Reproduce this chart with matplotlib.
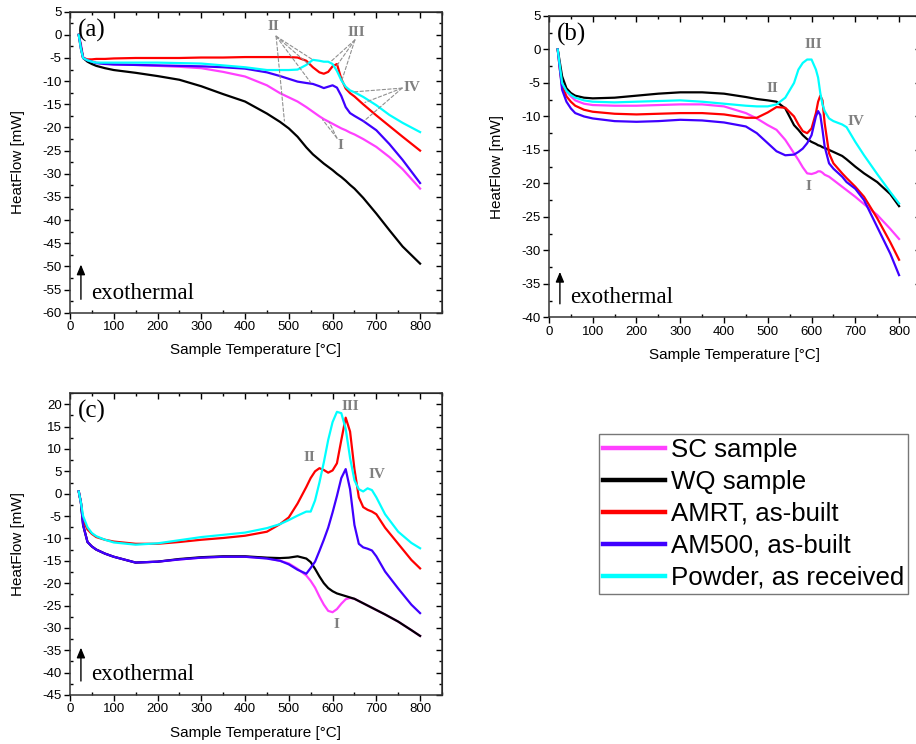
import matplotlib
matplotlib.use("Agg")
import matplotlib.pyplot as plt
from matplotlib.ticker import MultipleLocator, NullFormatter
from matplotlib.lines import Line2D

plt.rcParams["font.family"] = ["Liberation Sans", "DejaVu Sans"]
plt.rcParams["axes.unicode_minus"] = False

SERIES = ["SC sample", "WQ sample", "AMRT, as-built", "AM500, as-built", "Powder, as received"]
COLORS = ["#ff40ff", "#000000", "#ff0000", "#3f00ff", "#00ffff"]

# panel (a)
T_A = [20, 25, 30, 40, 50, 60, 80, 100, 150, 200, 250, 300, 350, 400, 450, 480, 500, 520, 540,
       555, 570, 580, 590, 600, 610, 620, 630, 640, 650, 670, 700, 730, 760, 800]
SC_A = [0, -2, -4.8, -5.5, -5.8, -6.0, -6.2, -6.4, -6.5, -6.7, -6.9, -7.2, -8.0, -9.0, -10.9, -12.6,
        -13.5, -14.4, -15.6, -16.6, -17.6, -18.2, -18.7, -19.2, -19.7, -20.2, -20.6, -21.1, -21.5,
        -22.5, -24.2, -26.4, -29.0, -33.2]
WQ_A = [0, -2.5, -5.0, -5.8, -6.3, -6.7, -7.2, -7.6, -8.2, -8.9, -9.7, -11.1, -12.8, -14.4, -17.0,
        -18.8, -20.2, -22.0, -24.3, -25.8, -27.0, -27.8, -28.5, -29.2, -30.0, -30.7, -31.5, -32.4,
        -33.2, -35.2, -38.6, -42.2, -45.7, -49.4]
AMRT_A = [0, -3, -5.0, -5.3, -5.3, -5.2, -5.2, -5.1, -5.0, -5.0, -5.0, -4.9, -4.9, -4.8, -4.8, -4.8,
          -4.8, -4.9, -5.6, -7.0, -8.1, -8.4, -8.0, -6.8, -6.3, -9.5, -11.6, -12.6, -13.3, -15.0,
          -17.4, -19.7, -22.0, -25.0]
AM500_A = [0, -3, -5.0, -5.5, -5.8, -6.1, -6.3, -6.4, -6.5, -6.6, -6.7, -6.8, -7.0, -7.3, -8.1, -8.9,
           -9.5, -10.1, -10.4, -10.6, -11.1, -11.5, -11.2, -10.9, -11.4, -13.2, -15.6, -16.9, -17.5,
           -18.6, -20.6, -23.6, -27.0, -32.0]
POWDER_A = [0, -3, -5.0, -5.5, -5.8, -6.0, -6.0, -6.0, -6.0, -6.0, -6.1, -6.2, -6.6, -7.0, -7.6, -7.6,
            -7.6, -7.5, -6.5, -5.4, -5.6, -5.8, -5.8, -6.3, -7.8, -9.8, -11.2, -12.0, -12.4, -13.4,
            -15.2, -17.3, -19.0, -21.0]

# panel (b)
T_B = [20, 25, 30, 40, 50, 60, 80, 100, 150, 200, 250, 300, 350, 400, 450, 475, 500, 520, 540, 560,
       570, 580, 590, 600, 610, 615, 620, 625, 630, 640, 650, 670, 680, 700, 720, 750, 780, 800]
SC_B = [0, -2.5, -5.0, -6.3, -7.0, -7.6, -8.1, -8.3, -8.4, -8.4, -8.3, -8.2, -8.2, -8.5, -9.5, -10.3,
        -11.3, -12.0, -13.5, -15.5, -16.5, -17.6, -18.5, -18.6, -18.4, -18.2, -18.2, -18.4, -18.7,
        -19.0, -19.5, -20.5, -21.0, -22.0, -23.1, -24.7, -26.8, -28.3]
WQ_B = [0, -2, -4.0, -5.8, -6.5, -6.9, -7.2, -7.3, -7.2, -6.9, -6.6, -6.4, -6.4, -6.6, -7.1, -7.4,
        -7.6, -7.8, -8.8, -11.3, -12.0, -12.8, -13.4, -13.8, -14.1, -14.3, -14.4, -14.6, -14.7,
        -15.0, -15.3, -15.9, -16.4, -17.5, -18.5, -19.8, -21.6, -23.4]
AMRT_B = [0, -3, -5.5, -7.0, -7.8, -8.4, -9.0, -9.3, -9.6, -9.7, -9.6, -9.5, -9.5, -9.7, -10.2, -10.2,
          -9.4, -8.6, -8.7, -10.0, -11.2, -12.2, -12.5, -11.8, -9.5, -7.8, -6.9, -7.6, -11.0, -15.5,
          -17.0, -18.5, -19.2, -20.5, -22.0, -25.2, -28.8, -31.4]
AM500_B = [0, -3, -6.0, -7.8, -8.8, -9.5, -10.0, -10.3, -10.7, -10.8, -10.7, -10.5, -10.6, -10.9,
           -11.5, -12.5, -14.0, -15.2, -15.8, -15.7, -15.3, -14.8, -14.0, -12.8, -10.0, -9.2, -9.8,
           -12.0, -14.5, -17.0, -17.8, -19.0, -19.8, -20.8, -22.5, -26.5, -30.5, -33.7]
POWDER_B = [0, -2.5, -5.0, -6.2, -6.8, -7.2, -7.6, -7.8, -7.9, -7.8, -7.7, -7.6, -7.8, -8.1, -8.4,
            -8.5, -8.5, -8.2, -7.2, -5.0, -3.0, -2.0, -1.5, -1.5, -3.0, -4.2, -6.5, -8.2, -9.2,
            -10.3, -10.7, -11.2, -11.6, -13.8, -15.8, -18.6, -21.3, -23.0]

# panel (c)
T_C = [20, 25, 30, 40, 50, 60, 80, 100, 150, 200, 250, 300, 350, 400, 450, 480, 500, 520, 540, 550,
       560, 570, 580, 590, 600, 610, 620, 630, 640, 650, 660, 670, 680, 690, 700, 720, 750, 780, 800]
SC_C = [0.5, -2, -7.0, -10.8, -11.8, -12.5, -13.4, -14.1, -15.4, -15.2, -14.7, -14.3, -14.1, -14.1,
        -14.4, -15.0, -15.6, -16.8, -18.3, -19.5, -21.0, -23.0, -24.8, -26.2, -26.5, -25.8, -24.6,
        -23.6, -23.3, -23.5, -24.0, -24.5, -25.0, -25.5, -26.0, -27.0, -28.6, -30.5, -31.8]
WQ_C = [0.5, -2, -7.0, -10.8, -11.8, -12.5, -13.4, -14.1, -15.4, -15.2, -14.6, -14.2, -14.0, -14.0,
        -14.3, -14.4, -14.3, -14.0, -14.5, -15.3, -16.8, -18.5, -20.0, -21.1, -21.8, -22.3, -22.6,
        -22.9, -23.2, -23.5, -24.0, -24.5, -25.0, -25.5, -26.0, -27.0, -28.6, -30.5, -31.8]
AMRT_C = [0.5, -2, -6.0, -8.0, -9.0, -9.7, -10.3, -10.7, -11.2, -11.2, -10.8, -10.3, -9.9, -9.4, -8.5,
          -6.8, -5.3, -2.2, 1.5, 3.5, 5.0, 5.7, 5.3, 4.7, 5.2, 6.8, 12.0, 17.0, 13.9, 5.5, -0.8,
          -3.0, -3.6, -4.0, -4.6, -7.6, -11.2, -14.8, -16.7]
AM500_C = [0.5, -2, -7.0, -10.8, -11.8, -12.5, -13.4, -14.1, -15.4, -15.2, -14.7, -14.3, -14.1,
           -14.1, -14.5, -15.0, -15.8, -17.0, -17.9, -16.6, -15.2, -12.8, -10.3, -7.6, -4.2, -0.5,
           3.5, 5.5, 1.0, -7.0, -11.2, -12.0, -12.3, -12.7, -14.0, -17.4, -21.2, -24.8, -26.7]
POWDER_C = [0.5, -2, -5.0, -7.5, -8.8, -9.5, -10.3, -10.9, -11.4, -11.1, -10.4, -9.7, -9.2, -8.7,
            -7.7, -6.8, -5.9, -4.9, -4.0, -4.0, -1.5, 2.5, 7.0, 12.0, 16.0, 18.3, 18.0, 14.5, 8.0,
            3.0, 1.0, 0.5, 1.2, 0.8, -0.8, -4.6, -8.5, -11.0, -12.2]

PANELS = [
    ("(a)", T_A, [SC_A, WQ_A, AMRT_A, AM500_A, POWDER_A], (-60, 5),
     [0.0764, 0.5797, 0.4061, 0.4046]),
    ("(b)", T_B, [SC_B, WQ_B, AMRT_B, AM500_B, POWDER_B], (-40, 5),
     [0.5993, 0.5735, 0.4061, 0.4050]),
    ("(c)", T_C, [SC_C, WQ_C, AMRT_C, AM500_C, POWDER_C], (-45, 22.5),
     [0.0764, 0.0659, 0.4061, 0.4058]),
]

# peak labels: (text, x, y) in data units
PEAKS = {
    "(a)": [("II", 464, 1.9), ("III", 654, 0.6), ("IV", 782, -11.3), ("I", 617, -23.8)],
    "(b)": [("III", 603, 0.7), ("II", 510, -5.9), ("IV", 702, -10.7), ("I", 592, -20.5)],
    "(c)": [("III", 640, 19.6), ("II", 546, 8.0), ("IV", 702, 4.2), ("I", 608, -29.3)],
}
# dashed leader lines in panel (a): start point, then the points they point at
LEADERS_A = [
    ((471, -0.3), [(555, -5.4), (548, -6.6), (550, -10.3), (490, -18.6)]),
    ((651, -1.1), [(598, -5.6), (610, -6.6), (622, -9.6)]),
    ((759, -11.5), [(651, -12.3), (674, -14.6), (672, -18.6)]),
    ((610, -22.3), [(577, -18.3), (592, -18.8)]),
]
ARROW_Y = {"(a)": (-57.7, -49.0, -55.8), "(b)": (-38.4, -32.8, -37.1), "(c)": (-42.5, -33.8, -40.5)}

fig = plt.figure(figsize=(9.16, 7.44), dpi=100)

for tag, temps, curves, ylim, pos in PANELS:
    ax = fig.add_axes(pos)
    for vals, color in zip(curves, COLORS):
        ax.plot(temps, vals, color=color, lw=1.6)

    ax.set_xlim(0, 850)
    ax.set_ylim(*ylim)
    ax.xaxis.set_major_locator(MultipleLocator(100))
    ax.xaxis.set_minor_locator(MultipleLocator(50))
    ax.yaxis.set_major_locator(MultipleLocator(5))
    ax.yaxis.set_minor_locator(MultipleLocator(2.5))
    ax.tick_params(which="major", direction="out", length=4, width=1, labelsize=9.5, pad=2)
    ax.tick_params(which="minor", direction="in", length=2.5, width=1)
    for sp in ax.spines.values():
        sp.set_linewidth(1.1)
        sp.set_color("#333333")

    # inward ticks on top and right
    top = ax.secondary_xaxis("top")
    top.xaxis.set_major_locator(MultipleLocator(100))
    top.xaxis.set_minor_locator(MultipleLocator(50))
    top.xaxis.set_major_formatter(NullFormatter())
    top.tick_params(which="major", direction="in", length=4, width=1)
    top.tick_params(which="minor", direction="in", length=2.5, width=1)
    right = ax.secondary_yaxis("right")
    right.yaxis.set_major_locator(MultipleLocator(5))
    right.yaxis.set_minor_locator(MultipleLocator(2.5))
    right.yaxis.set_major_formatter(NullFormatter())
    right.tick_params(which="major", direction="in", length=4, width=1)
    right.tick_params(which="minor", direction="in", length=2.5, width=1)

    ax.set_xlabel("Sample Temperature [°C]", fontsize=11, va="center")
    ax.set_ylabel("HeatFlow [mW]", fontsize=11, va="center")
    ax.xaxis.set_label_coords(0.5, -0.125)
    ax.yaxis.set_label_coords(-0.14, 0.5)

    ax.text(18, ylim[1] - (ylim[1] - ylim[0]) * 0.062, tag, family="Liberation Serif",
            fontsize=18, ha="left", va="center")

    for txt, x, y in PEAKS[tag]:
        ax.text(x, y, txt, family="Liberation Serif", fontweight="bold", fontsize=11,
                color="#808080", ha="center", va="center")

    y0, y1, ytxt = ARROW_Y[tag]
    ax.annotate("", xy=(25, y1), xytext=(25, y0),
                arrowprops=dict(arrowstyle="-|>,head_width=0.25,head_length=0.6",
                                color="black", lw=1))
    ax.text(49, ytxt, "exothermal", family="Liberation Serif", fontsize=16.5,
            ha="left", va="center")

    if tag == "(a)":
        for start, targets in LEADERS_A:
            for tgt in targets:
                ax.annotate("", xy=tgt, xytext=start,
                            arrowprops=dict(arrowstyle="-", color="#909090", lw=0.8,
                                            linestyle=(0, (3, 2)), shrinkA=0, shrinkB=0))

handles = [Line2D([], [], color=c, lw=3.2) for c in COLORS]
leg = fig.legend(handles, SERIES, loc="upper left", bbox_to_anchor=(599 / 916, 1 - 434 / 744),
                 fontsize=18.6, frameon=True, fancybox=False, borderpad=0.15, labelspacing=0.31,
                 handlelength=2.4, handletextpad=0.25, borderaxespad=0)
leg.get_frame().set_edgecolor("#555555")
leg.get_frame().set_linewidth(1.0)

fig.savefig("out.png", dpi=100)
